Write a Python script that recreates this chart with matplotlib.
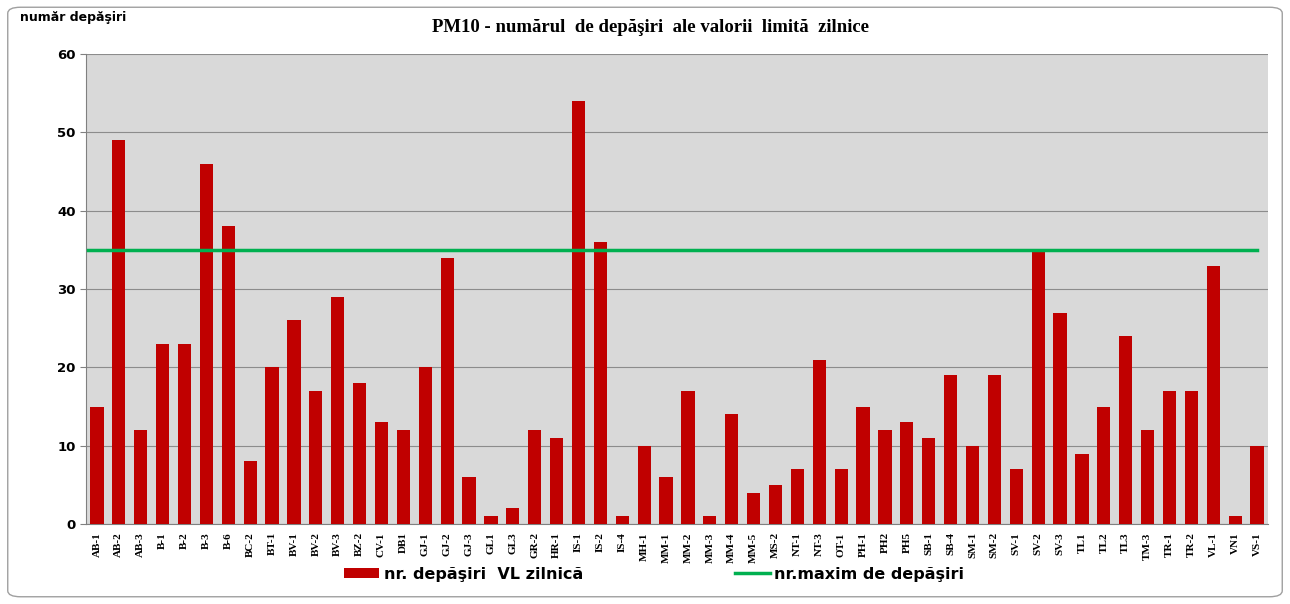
import matplotlib.pyplot as plt
import numpy as np
from matplotlib.patches import FancyBboxPatch

stations = ['AB-1', 'AB-2', 'AB-3', 'B-1', 'B-2', 'B-3', 'B-6', 'BC-2', 'BT-1', 'BV-1',
            'BV-2', 'BV-3', 'BZ-2', 'CV-1', 'DB1', 'GJ-1', 'GJ-2', 'GJ-3', 'GL1', 'GL3',
            'GR-2', 'HR-1', 'IS-1', 'IS-2', 'IS-4', 'MH-1', 'MM-1', 'MM-2', 'MM-3', 'MM-4',
            'MM-5', 'MS-2', 'NT-1', 'NT-3', 'OT-1', 'PH-1', 'PH2', 'PH5', 'SB-1', 'SB-4',
            'SM-1', 'SM-2', 'SV-1', 'SV-2', 'SV-3', 'TL1', 'TL2', 'TL3', 'TM-3', 'TR-1',
            'TR-2', 'VL-1', 'VN1', 'VS-1']
exceedances = [15, 49, 12, 23, 23, 46, 38, 8, 20, 26,
               17, 29, 18, 13, 12, 20, 34, 6, 1, 2,
               12, 11, 54, 36, 1, 10, 6, 17, 1, 14,
               4, 5, 7, 21, 7, 15, 12, 13, 11, 19,
               10, 19, 7, 35, 27, 9, 15, 24, 12, 17,
               17, 33, 1, 10]
max_allowed = 35

fig = plt.figure(figsize=(12.9, 6.04), dpi=100)
fig.patches.append(FancyBboxPatch((0.006, 0.012), 0.988, 0.976, boxstyle="round,pad=0,rounding_size=0.01",
                                  transform=fig.transFigure, fill=False, ec='#a0a0a0', lw=1))
ax = fig.add_axes([86 / 1290, 1 - 524 / 604, (1268 - 86) / 1290, (524 - 54) / 604])
ax.set_facecolor('#d9d9d9')

x = np.arange(len(stations))
bars = ax.bar(x, exceedances, width=0.6, color='#c00000', zorder=3)
line, = ax.plot([-0.4, len(stations) - 1], [max_allowed, max_allowed], color='#00b050', lw=2.5, zorder=4)

ax.set_xlim(-0.5, len(stations) - 0.5)
ax.set_ylim(0, 60)
ax.set_yticks(range(0, 61, 10))
ax.yaxis.grid(True, color='#8c8c8c', lw=0.8, zorder=0)
ax.set_xticks(x)
ax.set_xticklabels(stations, rotation=90, fontsize=8, fontfamily='Liberation Serif', fontweight='bold')
ax.tick_params(axis='y', labelsize=9.5, length=4, color='#808080')
ax.tick_params(axis='x', length=0, pad=6)
for lab in ax.get_yticklabels():
    lab.set_fontweight('bold')
for s in ['top', 'right']:
    ax.spines[s].set_visible(False)
for s in ['left', 'bottom']:
    ax.spines[s].set_color('#808080')

fig.text(0.504, 1 - 28 / 604, 'PM10 - numărul  de depăşiri  ale valorii  limită  zilnice', ha='center', va='center',
         fontsize=13.5, fontweight='bold', fontfamily='Liberation Serif')
fig.text(20 / 1290, 1 - 18 / 604, 'număr depăşiri', ha='left', va='center', fontsize=9, fontweight='bold')

fig.legend([bars, line], ['nr. depăşiri  VL zilnică', 'nr.maxim de depăşiri'],
           loc='center', bbox_to_anchor=(0.507, 1 - 574 / 604), ncol=2, frameon=False, columnspacing=9.5,
           handlelength=2.2, handleheight=0.6, handletextpad=0.3, prop={'size': 11.5, 'weight': 'bold'})

fig.savefig('out.png', dpi=100)
